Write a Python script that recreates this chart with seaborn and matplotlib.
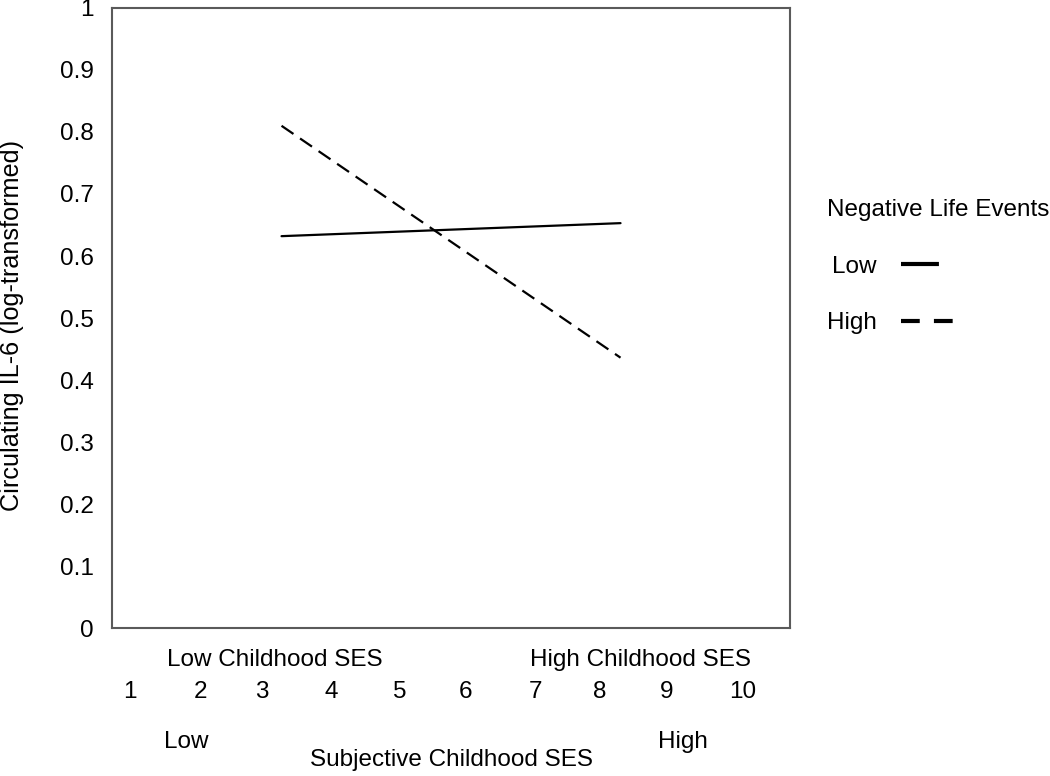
import numpy as np
import pandas as pd
import matplotlib
matplotlib.use("Agg")
import matplotlib.pyplot as plt
import seaborn as sns
from matplotlib.lines import Line2D

# datos
categorias = ["Low Childhood SES", "High Childhood SES"]
grupos = ["Low", "High"]
il6_low = [0.632, 0.653]     # Negative Life Events: Low
il6_high = [0.810, 0.436]    # Negative Life Events: High
escala = ["1", "2", "3", "4", "5", "6", "7", "8", "9", "10"]
yticks = [0, 0.1, 0.2, 0.3, 0.4, 0.5, 0.6, 0.7, 0.8, 0.9, 1]

# tabla larga para seaborn
pos = np.arange(len(categorias)) + 0.5
df = pd.DataFrame({
    "pos": np.concatenate([pos, pos]),
    "il6": il6_low + il6_high,
    "eventos": [grupos[0]] * 2 + [grupos[1]] * 2,
})

sns.set_style("white")
plt.rcParams["font.family"] = ["Liberation Sans", "DejaVu Sans"]
plt.rcParams["text.color"] = "black"
plt.rcParams["axes.labelcolor"] = "black"
plt.rcParams["xtick.labelcolor"] = "black"
plt.rcParams["ytick.labelcolor"] = "black"
fs = 17.5
gris = "#5a5a5a"

fig = plt.figure(figsize=(10.5, 7.76), dpi=100)
ax = fig.add_axes([0.1067, 0.1907, 0.6457, 0.799])

sns.lineplot(
    data=df, x="pos", y="il6", style="eventos",
    dashes={"Low": "", "High": (6.5, 3.6)},
    color="black", linewidth=1.6, legend=False, ax=ax,
)

ax.set_xlim(0, 2)
ax.set_ylim(0, 1)
ax.set_xticks([0, 1, 2])
ax.set_xticklabels([])
ax.set_yticks(yticks)
ax.set_yticklabels([f"{v:g}" for v in yticks], fontsize=fs)
ax.tick_params(axis="x", direction="inout", length=11, width=1.2, color=gris)
ax.tick_params(axis="y", direction="out", length=7, width=1.2, color=gris, pad=6)
for s in ax.spines.values():
    s.set_color(gris)
    s.set_linewidth(1.5)
ax.set_xlabel("")
ax.set_ylabel("")
# titulo del eje y pegado al borde izquierdo como en el original
fig.text(0.0115, 0.581, "Circulating IL-6 (log-transformed)", rotation=90,
         ha="center", va="center", fontsize=18.2)

# etiquetas de categorias y escala debajo del eje
cat_x = [0.24, 0.78]
for c, xx in zip(categorias, cat_x):
    ax.text(xx, -0.052, c, transform=ax.transAxes, ha="center", va="center", fontsize=fs)
num_x = [0.027, 0.130, 0.221, 0.323, 0.425, 0.522, 0.625, 0.720, 0.818, 0.930]
for n, xx in zip(escala, num_x):
    ax.text(xx, -0.103, n, transform=ax.transAxes, ha="center", va="center", fontsize=fs)
ax.text(0.11, -0.184, "Low", transform=ax.transAxes, ha="center", va="center", fontsize=fs)
ax.text(0.842, -0.184, "High", transform=ax.transAxes, ha="center", va="center", fontsize=fs)
ax.text(0.5, -0.213, "Subjective Childhood SES", transform=ax.transAxes,
        ha="center", va="center", fontsize=fs)

# leyenda a la derecha (la linea solida es mas corta que la discontinua)
handles = [
    Line2D([], [], color="black", lw=3.0, dashes=(9.1, 20)),
    Line2D([], [], color="black", lw=3.0, dashes=(4.5, 3.4)),
]
leg = fig.legend(
    handles, grupos, title="Negative Life Events", markerfirst=False,
    loc="upper left", bbox_to_anchor=(0.778, 0.756), frameon=False,
    fontsize=fs, title_fontsize=fs, labelspacing=1.42, handlelength=2.15,
    handletextpad=1.0, alignment="left", borderaxespad=0,
)

plt.savefig("out.png", dpi=100)
